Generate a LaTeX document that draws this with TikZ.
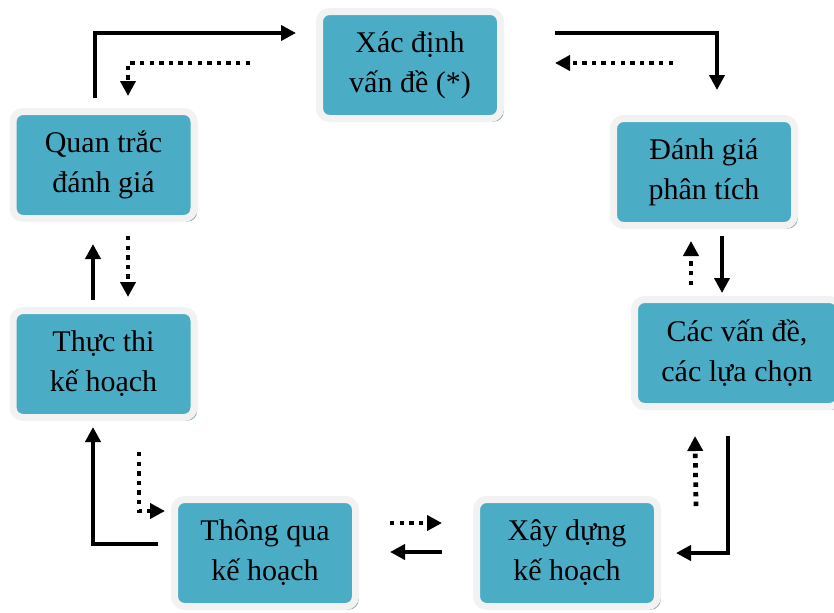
\documentclass[tikz,border=0pt]{standalone}
\usepackage{fontspec}
\setmainfont{Liberation Serif}
\usetikzlibrary{arrows.meta,shadows}
\definecolor{boxteal}{HTML}{4BACC6}
\definecolor{boxrim}{HTML}{F2F2F2}
\definecolor{boxshade}{HTML}{8FA8B4}

\begin{document}
\begin{tikzpicture}[x=0.5pt, y=-0.5pt, >={Triangle[length=7.5pt,width=7.5pt]},
    procbox/.style={draw=boxrim, line width=3.5pt, outer sep=0pt, fill=boxteal, rounded corners=5pt,
      minimum width=90.5pt, minimum height=53.5pt, align=center,
      font=\fontsize{15}{20}\selectfont,
      drop shadow={shadow xshift=1.6pt, shadow yshift=-1.6pt, fill=boxshade, opacity=1}},
    solidarr/.style={->, line width=2.4pt},
    dotarr/.style={->, line width=2.4pt, dash pattern=on 2.2pt off 2.6pt}]
  \useasboundingbox (0,0) rectangle (834,612);
  \node[procbox] (xd)  at (410,65)    {Xác định\\vấn đề (*)};
  \node[procbox] (dg)  at (704,172)   {Đánh giá\\phân tích};
  \node[procbox, minimum width=102.5pt] (cv) at (737,353) {Các vấn đề,\\các lựa chọn};
  \node[procbox] (xdg) at (567,553)   {Xây dựng\\kế hoạch};
  \node[procbox] (tq)  at (265,553)   {Thông qua\\kế hoạch};
  \node[procbox] (tt)  at (103.5,364) {Thực thi\\kế hoạch};
  \node[procbox] (qt)  at (103.5,165) {Quan trắc\\đánh giá};
  % top
  \draw[solidarr] ([xshift=-4.25pt,yshift=6.75pt]qt.north) |- ([xshift=-11.75pt,yshift=16pt]xd.west);
  \draw[dotarr] ([xshift=-34.75pt,yshift=1pt]xd.west) -| ([xshift=12.25pt,yshift=7.75pt]qt.north);
  \draw[solidarr] ([xshift=27.25pt,yshift=16pt]xd.east) -| ([xshift=6.5pt,yshift=14.25pt]dg.north);
  \draw[dotarr] ([xshift=86.25pt,yshift=1pt]xd.east) -- ([xshift=27.25pt,yshift=1pt]xd.east);
  % right
  \draw[solidarr] ([xshift=9pt,yshift=-5.25pt]dg.south) -- ([xshift=-7.5pt,yshift=3.25pt]cv.north);
  \draw[dotarr] ([xshift=-23pt,yshift=7.25pt]cv.north) -- ([xshift=-6.5pt,yshift=-7.75pt]dg.south);
  \draw[solidarr] ([xshift=-4.5pt,yshift=-14.75pt]cv.south) |- ([xshift=9.25pt,yshift=0pt]xdg.east);
  \draw[dotarr] ([xshift=19.25pt,yshift=23.5pt]xdg.east) -- ([xshift=-21pt,yshift=-14.75pt]cv.south);
  % bottom
  \draw[solidarr] ([xshift=-17.25pt,yshift=0.5pt]xdg.west) -- ([xshift=17.25pt,yshift=0.5pt]tq.east);
  \draw[dotarr] ([xshift=17.25pt,yshift=15pt]tq.east) -- ([xshift=-17.25pt,yshift=15pt]xdg.west);
  % left
  \draw[solidarr] ([xshift=-8.25pt,yshift=4.5pt]tq.west) -| ([xshift=-5.25pt,yshift=-4.75pt]tt.south);
  \draw[dotarr] ([xshift=17.75pt,yshift=-17.25pt]tt.south) |- ([xshift=-4.75pt,yshift=21pt]tq.west);
  \draw[solidarr] ([xshift=-5.25pt,yshift=5.25pt]tt.north) -- ([xshift=-5.25pt,yshift=-12.75pt]qt.south);
  \draw[dotarr] ([xshift=12.25pt,yshift=-8.75pt]qt.south) -- ([xshift=12.25pt,yshift=6.75pt]tt.north);
\end{tikzpicture}
\end{document}
